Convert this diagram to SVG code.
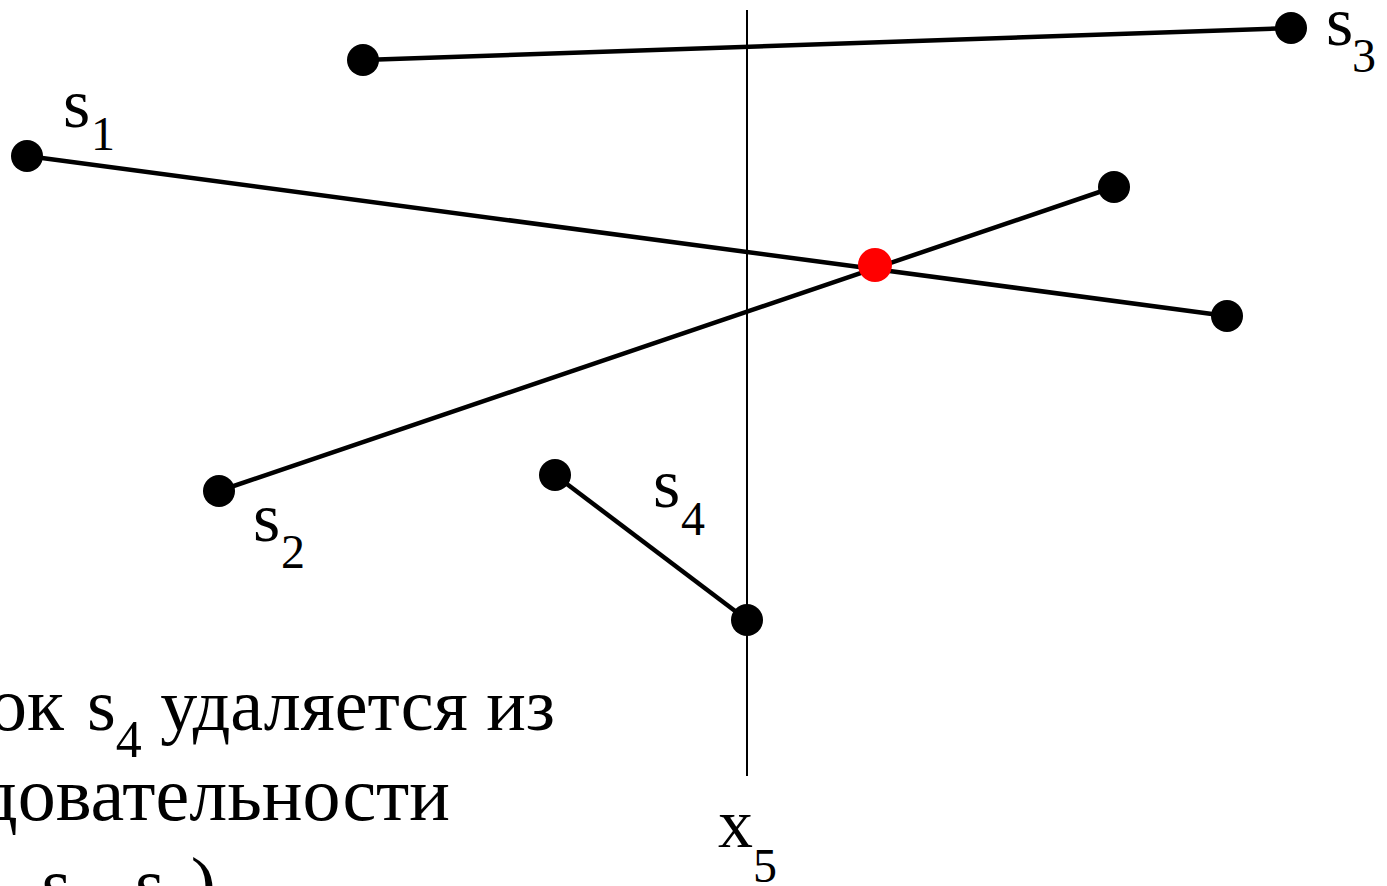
<svg xmlns="http://www.w3.org/2000/svg" width="1387" height="886" viewBox="0 0 1387 886">
<style>
.seg{stroke:#000;stroke-width:4.5;fill:none}
.sweep{stroke:#000;stroke-width:2;fill:none}
.pt{fill:#000}
.hit{fill:#ff0000}
.lbl{font-family:"Liberation Serif","Times New Roman",serif;font-size:70px;fill:#000}
.sub{font-family:"Liberation Serif","Times New Roman",serif;font-size:48px;fill:#000}
.body{font-family:"Liberation Serif","Times New Roman",serif;font-size:76px;fill:#000}
</style>
<rect width="1387" height="886" fill="#fff"/>
<g id="connectors">
<line class="sweep" x1="747" y1="10" x2="747" y2="776"/>
<line class="seg" x1="363" y1="60" x2="1291" y2="28"/>
<line class="seg" x1="27" y1="156" x2="1227" y2="316"/>
<line class="seg" x1="219" y1="491" x2="1114" y2="187"/>
<line class="seg" x1="555" y1="475" x2="747" y2="620"/>
</g>
<g id="s3">
<circle class="pt" cx="363" cy="60" r="16"/>
<circle class="pt" cx="1291" cy="28" r="16"/>
<text class="lbl" x="1326" y="45">s</text><text class="sub" x="1352" y="72">3</text>
</g>
<g id="s1">
<circle class="pt" cx="27" cy="156" r="16"/>
<circle class="pt" cx="1227" cy="316" r="16"/>
<text class="lbl" x="63" y="127">s</text><text class="sub" x="91" y="150">1</text>
</g>
<g id="s2">
<circle class="pt" cx="219" cy="491" r="16"/>
<circle class="pt" cx="1114" cy="187" r="16"/>
<text class="lbl" x="253" y="541">s</text><text class="sub" x="281" y="568">2</text>
</g>
<g id="s4">
<circle class="pt" cx="555" cy="475" r="16"/>
<circle class="pt" cx="747" cy="620" r="16"/>
<text class="lbl" x="653" y="507">s</text><text class="sub" x="681" y="535">4</text>
</g>
<g id="intersection">
<circle class="hit" cx="875" cy="265" r="17"/>
</g>
<g id="x5">
<text class="lbl" x="718" y="847">x</text><text class="sub" x="753" y="882">5</text>
</g>
<g id="caption">
<text class="body" x="64" y="730" text-anchor="end">Отрезок</text>
<text class="body" x="87" y="730" style="font-size:74px">s<tspan style="font-size:52px" dy="27">4</tspan><tspan dy="-27"> удаляется из</tspan></text>
<text class="body" x="450" y="820" text-anchor="end">последовательности</text>
<text class="body" x="216" y="910" text-anchor="end">(s<tspan style="font-size:52px" dy="27">3</tspan><tspan dy="-27">, s</tspan><tspan style="font-size:52px" dy="27">1</tspan><tspan dy="-27">, s</tspan><tspan style="font-size:52px" dy="27">2</tspan><tspan dy="-27">)</tspan></text>
</g>
</svg>
